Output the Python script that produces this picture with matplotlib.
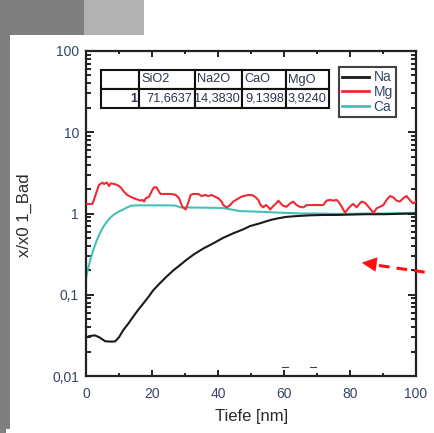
import matplotlib
matplotlib.use("Agg")
import matplotlib.pyplot as plt
from matplotlib.patches import Rectangle, Polygon
from matplotlib.lines import Line2D
from matplotlib.ticker import FixedLocator, FixedFormatter, LogLocator, MultipleLocator, NullFormatter

plt.rcParams['font.family'] = ['Liberation Sans', 'DejaVu Sans']

# ---- depth profiles (normalised to bulk composition) ----
na_depth = [0, 1, 2.7, 4, 5.8, 7.3, 8.8, 10, 11.3, 12.8, 14.3, 15.8, 17.4, 19, 20.4, 22.5,
            24.4, 26.5, 28.5, 30.5, 32.5, 35.5, 38.6, 41.5, 44.6, 47.7, 49.7, 52.7, 55.8,
            58, 60.8, 64, 67.9, 72, 76, 80, 85, 90, 95, 100]
na_ratio = [0.0296, 0.031, 0.0316, 0.030, 0.0268, 0.0265, 0.0266, 0.030, 0.0368, 0.044,
            0.0537, 0.065, 0.0785, 0.095, 0.114, 0.14, 0.167, 0.2, 0.232, 0.27, 0.31, 0.37,
            0.43, 0.5, 0.57, 0.64, 0.70, 0.757, 0.83, 0.87, 0.91, 0.93, 0.95, 0.96, 0.96,
            0.97, 0.98, 0.98, 0.99, 1.0]

mg_depth = [0, 1.9, 2.4, 3.9, 4.95, 5.45, 6.3, 7.0, 7.5, 8.5, 9.5, 10.5, 11.5, 12.5, 13.5,
            14.5, 15.5, 16.6, 17.1, 17.6, 18.1, 19.1, 20.1, 20.6, 21.4, 22.1, 22.6, 25.7,
            27.2, 28.2, 29.2, 30.2, 30.9, 31.7, 32.5, 34.0, 35.0, 36.1, 37.1, 38.1, 39.1,
            40.1, 41.1, 41.6, 42.6, 43.4, 44.1, 44.6, 45.7, 46.7, 47.7, 49.2, 50.2, 51.2,
            52.2, 52.9, 53.7, 54.5, 55.2, 55.8, 56.8, 57.6, 58.3, 59.0, 59.8, 60.8, 61.8,
            62.8, 63.8, 64.8, 65.9, 66.9, 71.9, 72.9, 73.9, 74.9, 75.9, 76.5, 77.5, 78.5,
            79.5, 80.5, 81.0, 82.0, 83.0, 83.5, 84.5, 85.6, 86.6, 87.1, 88.1, 89.1, 90.1,
            91.1, 92.1, 93.1, 94.1, 95.1, 96.1, 97.1, 98.1, 99.1, 100]
mg_ratio = [1.31, 1.31, 1.47, 2.24, 2.40, 2.31, 2.40, 2.18, 2.35, 2.31, 2.24, 2.10, 1.86,
            1.69, 1.61, 1.54, 1.49, 1.44, 1.47, 1.40, 1.54, 1.61, 1.95, 2.10, 2.10, 1.86,
            1.74, 1.74, 1.69, 1.54, 1.21, 1.12, 1.33, 1.69, 1.74, 1.74, 1.64, 1.69, 1.64,
            1.69, 1.61, 1.54, 1.40, 1.27, 1.19, 1.24, 1.33, 1.40, 1.49, 1.58, 1.64, 1.69,
            1.69, 1.61, 1.47, 1.27, 1.19, 1.27, 1.21, 1.12, 1.24, 1.33, 1.44, 1.33, 1.24,
            1.21, 1.33, 1.40, 1.27, 1.21, 1.19, 1.27, 1.27, 1.44, 1.47, 1.44, 1.47, 1.40,
            1.21, 1.02, 1.16, 1.27, 1.31, 1.19, 1.33, 1.40, 1.36, 1.21, 1.08, 1.02, 1.16,
            1.21, 1.27, 1.47, 1.64, 1.58, 1.44, 1.40, 1.54, 1.64, 1.47, 1.33, 1.40]

ca_depth = [0, 0.5, 1.2, 2.2, 3.2, 4.2, 5.2, 6.3, 7.3, 8.3, 9.8, 11.3, 12.5, 13.8, 16, 20,
            25, 27.2, 28.5, 35, 41.5, 44, 46.7, 50, 55, 60, 65, 70, 75, 80, 85, 90, 95, 100]
ca_ratio = [0.16, 0.20, 0.26, 0.355, 0.46, 0.57, 0.68, 0.79, 0.88, 0.96, 1.05, 1.12, 1.19,
            1.25, 1.26, 1.26, 1.26, 1.25, 1.19, 1.18, 1.17, 1.12, 1.07, 1.06, 1.04, 1.02,
            1.00, 1.00, 0.99, 0.99, 1.00, 1.00, 1.01, 1.02]

series_names = ["Na", "Mg", "Ca"]
series_colors = ["#1a1a1a", "#ee2a35", "#45c0b8"]

# ---- bulk composition table ----
table_header = ["", "SiO2", "Na2O", "CaO", "MgO"]
table_row = ["1", "71,6637", "14,3830", "9,1398", "3,9240"]

ytick_vals = [0.01, 0.1, 1, 10, 100]
ytick_labels = ["0,01", "0,1", "1", "10", "100"]
xtick_vals = [0, 20, 40, 60, 80, 100]
xtick_labels = ["0", "20", "40", "60", "80", "100"]

W, H = 434, 433
fig = plt.figure(figsize=(W / 100, H / 100), dpi=100)
fig.patch.set_facecolor("white")

def px_rect(x0, y0, x1, y1, color):
    # rectangle in image pixel coordinates (origin top-left)
    fig.patches.append(Rectangle((x0 / W, 1 - y1 / H), (x1 - x0) / W, (y1 - y0) / H,
                                 transform=fig.transFigure, facecolor=color,
                                 edgecolor="none", zorder=0))

px_rect(0, 0, 84, 35, "#7f7f7f")
px_rect(84, 0, 144, 35, "#b2b2b2")
px_rect(0, 0, 10, 429, "#7f7f7f")
px_rect(0, 429, 6, 433, "#7f7f7f")

ax = fig.add_axes([86 / W, 1 - 376 / H, 330 / W, 325 / H])
ax.set_facecolor("white")

for xs, ys, name, col in zip([na_depth, mg_depth, ca_depth], [na_ratio, mg_ratio, ca_ratio],
                             series_names, series_colors):
    ax.plot(xs, ys, color=col, lw=1.5, label=name, zorder=3 if name != "Ca" else 2)

ax.set_yscale("log")
ax.set_xlim(0, 100)
ax.set_ylim(0.01, 100)

tick_color = "#34456b"
ax.yaxis.set_major_locator(FixedLocator(ytick_vals))
ax.yaxis.set_major_formatter(FixedFormatter(ytick_labels))
ax.yaxis.set_minor_locator(LogLocator(base=10, subs=range(2, 10)))
ax.yaxis.set_minor_formatter(NullFormatter())
ax.xaxis.set_major_locator(FixedLocator(xtick_vals))
ax.xaxis.set_major_formatter(FixedFormatter(xtick_labels))
ax.xaxis.set_minor_locator(MultipleLocator(10))

ax.tick_params(which="both", direction="in", top=True, right=True, width=1.4,
               color="#222222", labelcolor=tick_color, labelsize=10)
ax.tick_params(axis="y", which="major", length=5.5, pad=5)
ax.tick_params(axis="y", which="minor", length=3.5)
ax.tick_params(axis="x", which="major", length=4, pad=8)
ax.tick_params(axis="x", which="minor", length=2)
for s in ax.spines.values():
    s.set_linewidth(1.6)
    s.set_color("#222222")

fig.text(252 / W, 1 - 417 / H, "Tiefe [nm]", ha="center", va="center", fontsize=12,
         color="#2a2a2a")
fig.text(24 / W, 1 - 215.5 / H, "x/x0 1_Bad", ha="center", va="center", fontsize=12,
         rotation=90, color="#2a2a2a")

# composition table
col_px = [38, 56, 47, 44, 43]
tot = sum(col_px)
tbl = ax.table(cellText=[table_header, table_row],
               colWidths=[c / tot for c in col_px],
               bbox=[15 / 330, (376 - 108) / 325, tot / 330, 38 / 325],
               zorder=4)
tbl.auto_set_font_size(False)
for (r, c), cell in tbl.get_celld().items():
    cell.set_linewidth(1.5)
    cell.set_edgecolor("#111111")
    cell.set_facecolor("white")
    cell.PAD = 0.05
    txt = cell.get_text()
    txt.set_fontsize(9.2)
    txt.set_color("#2b3550")
    if r == 0:
        txt.set_ha("left")
        cell._loc = "left"
    else:
        txt.set_ha("right")
        cell._loc = "right"
        if c == 0:
            txt.set_fontweight("bold")

leg = ax.legend(loc="upper left", bbox_to_anchor=((339 - 86) / 330, (376 - 67) / 325),
                fontsize=10, frameon=True, fancybox=False, borderpad=0.25,
                handlelength=1.9, handletextpad=0.35, labelspacing=0.05, borderaxespad=0)
leg.get_frame().set_edgecolor("#111111")
leg.get_frame().set_linewidth(1.5)
for ln in leg.get_lines():
    ln.set_linewidth(2.0)
for t in leg.get_texts():
    t.set_color(tick_color)

# dashed pointer arrow
def fpx(x, y):
    return x / W, 1 - y / H

xs_a, ys_a = zip(fpx(379, 265.5), fpx(427, 272.5))
fig.lines.append(Line2D(xs_a, ys_a, transform=fig.transFigure, color="#ff1010",
                        lw=2.2, dashes=(3.5, 2.3), solid_capstyle="butt"))
fig.patches.append(Polygon([fpx(361.7, 262.7), fpx(377.5, 257.3), fpx(375.5, 271.7)],
                           closed=True, transform=fig.transFigure, facecolor="#ff1010",
                           edgecolor="none"))

# small marks near the bottom of the plot area
for x0 in (282, 310):
    xs_m, ys_m = zip(fpx(x0, 366.5), fpx(x0 + 6, 366.5))
    fig.lines.append(Line2D(xs_m, ys_m, transform=fig.transFigure, color="#444444", lw=0.8))

fig.savefig("out.png", dpi=100)
